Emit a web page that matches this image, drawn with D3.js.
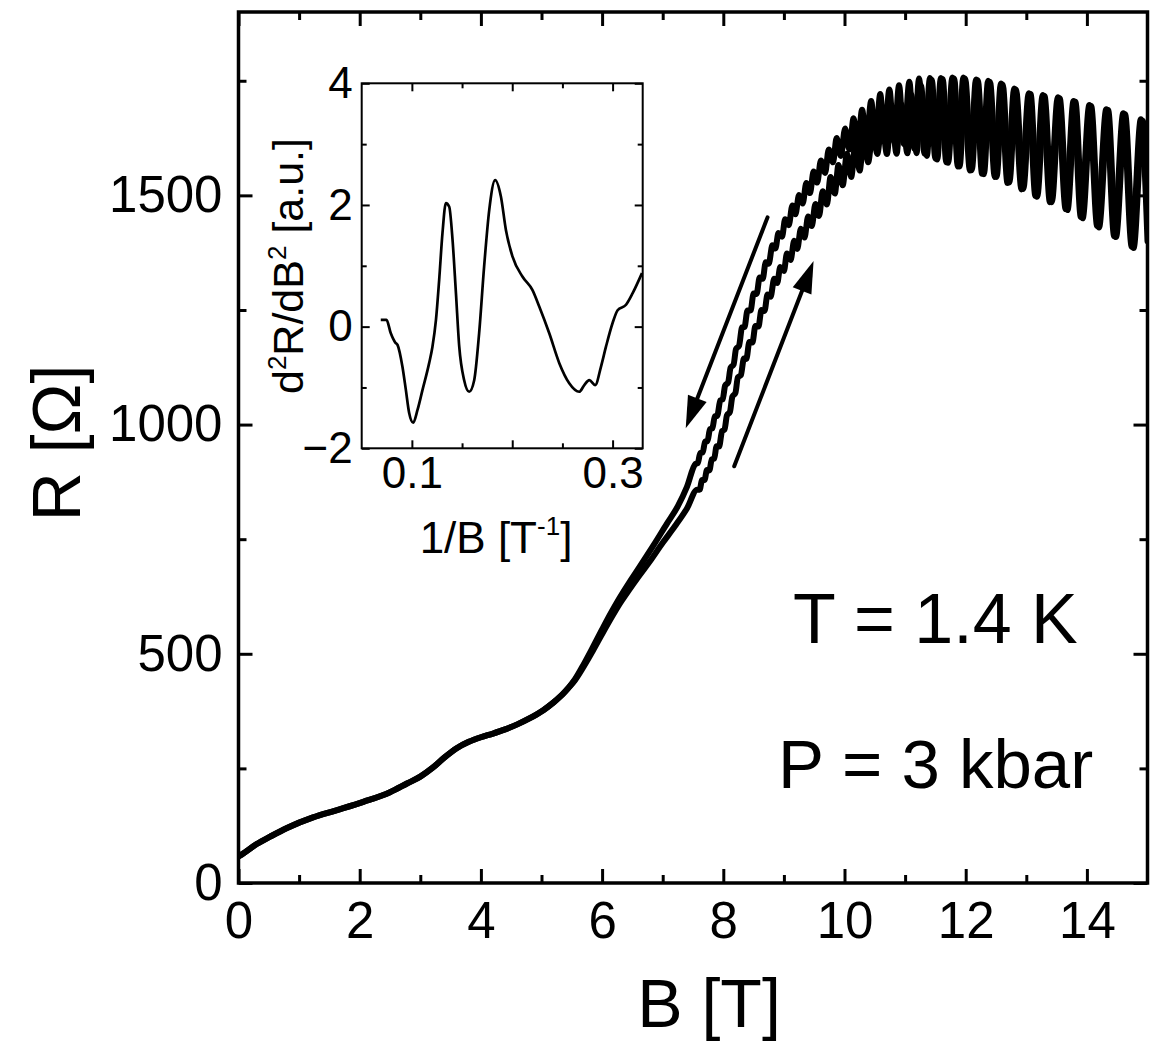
<!DOCTYPE html>
<html>
<head>
<meta charset="utf-8">
<script src="https://cdnjs.cloudflare.com/ajax/libs/d3/7.8.5/d3.min.js"></script>
<style>
  body { margin: 0; background: #fff; }
  svg { font-family: "Liberation Sans", Arial, Helvetica, sans-serif; }
  .tick line { stroke: #000; }
</style>
</head>
<body>
<div id="chart"></div>
<script>
// R(B) below 5.45 T, both sweeps lie on top of each other
var lowField = [
  [0, 58], [0.05, 62], [0.3, 85], [0.52, 101], [0.8, 120], [1.23, 143], [1.6, 158],
  [2.06, 177], [2.5, 198], [2.78, 217], [3.0, 232], [3.2, 251], [3.4, 274], [3.6, 294],
  [3.8, 308], [4.0, 318], [4.2, 326], [4.4, 335], [4.6, 346], [4.8, 359], [5.03, 377],
  [5.2, 394], [5.32, 408], [5.44, 425]
];

// down sweep (upper-left curve), oscillation extrema
var downSweep = [
  [5.55, 444], [5.7, 478], [5.85, 515], [6.0, 553], [6.15, 590], [6.28, 620], [6.45, 656],
  [6.61, 688], [6.85, 737], [7.07, 784], [7.25, 822], [7.4, 864],
  [7.54, 914], [7.58, 916], [7.62, 938], [7.66, 939], [7.70, 963], [7.74, 964], [7.78, 990],
  [7.82, 992], [7.86, 1018], [7.90, 1019], [7.95, 1053], [7.99, 1055], [8.03, 1085], [8.08, 1092],
  [8.12, 1124], [8.17, 1131], [8.21, 1165], [8.26, 1172], [8.31, 1212], [8.35, 1213], [8.40, 1249],
  [8.45, 1249], [8.50, 1286], [8.55, 1285], [8.60, 1321], [8.65, 1318], [8.70, 1354], [8.75, 1351],
  [8.81, 1391], [8.86, 1384], [8.91, 1418], [8.97, 1410], [9.02, 1448], [9.08, 1435], [9.14, 1478],
  [9.19, 1459], [9.25, 1501], [9.31, 1482], [9.37, 1527], [9.43, 1505], [9.49, 1552], [9.55, 1528],
  [9.61, 1576], [9.68, 1549], [9.74, 1600], [9.81, 1572], [9.87, 1625], [9.94, 1586], [10.01, 1646],
  [10.08, 1600], [10.15, 1668], [10.22, 1607], [10.29, 1687], [10.36, 1614], [10.44, 1706],
  [10.51, 1615], [10.59, 1721], [10.66, 1618], [10.74, 1731], [10.82, 1617], [10.90, 1740],
  [10.98, 1612], [11.07, 1748], [11.15, 1602], [11.23, 1755], [11.32, 1591], [11.41, 1756],
  [11.50, 1580], [11.59, 1756], [11.68, 1572], [11.78, 1757], [11.87, 1563], [11.96, 1757],
  [12.07, 1554], [12.17, 1753], [12.27, 1547], [12.37, 1750], [12.48, 1540], [12.58, 1744],
  [12.69, 1527], [12.80, 1733], [12.92, 1513], [13.04, 1723], [13.15, 1499], [13.27, 1719],
  [13.39, 1485], [13.52, 1714], [13.65, 1470], [13.78, 1706], [13.90, 1453], [14.04, 1697],
  [14.17, 1433], [14.32, 1688], [14.45, 1411], [14.60, 1679], [14.74, 1388], [14.89, 1666],
  [15.0, 1400]
];

// up sweep (lower-right curve)
var upSweep = [
  [5.55, 442], [5.7, 473], [5.85, 507], [6.0, 543], [6.15, 578], [6.3, 611], [6.45, 640],
  [6.6, 668], [6.78, 700], [7.0, 742], [7.2, 778], [7.4, 817],
  [7.57, 858], [7.61, 858], [7.65, 879], [7.69, 879], [7.73, 901], [7.77, 900], [7.81, 924],
  [7.85, 926], [7.89, 953], [7.93, 952], [7.98, 986], [8.02, 989], [8.06, 1020], [8.11, 1028],
  [8.15, 1061], [8.20, 1069], [8.24, 1103], [8.29, 1108], [8.34, 1144], [8.38, 1143], [8.43, 1180],
  [8.48, 1179], [8.53, 1215], [8.58, 1214], [8.63, 1250], [8.68, 1248], [8.73, 1284], [8.78, 1279],
  [8.84, 1318], [8.89, 1309], [8.94, 1344], [9.00, 1335], [9.05, 1373], [9.11, 1359], [9.17, 1401],
  [9.22, 1383], [9.28, 1427], [9.34, 1408], [9.40, 1454], [9.46, 1433], [9.52, 1481], [9.58, 1455],
  [9.64, 1509], [9.71, 1480], [9.77, 1540], [9.84, 1504], [9.90, 1566], [9.97, 1522], [10.04, 1591],
  [10.11, 1540], [10.18, 1612], [10.25, 1554], [10.32, 1630], [10.39, 1572], [10.47, 1645],
  [10.54, 1590], [10.62, 1662], [10.70, 1590], [10.77, 1680], [10.86, 1591], [10.93, 1700],
  [11.04, 1592], [11.10, 1720], [11.19, 1592], [11.26, 1740], [11.36, 1586], [11.44, 1752],
  [11.53, 1578], [11.62, 1754], [11.71, 1571], [11.81, 1755], [11.90, 1563], [11.99, 1755],
  [12.10, 1555], [12.20, 1751], [12.30, 1546], [12.40, 1748], [12.51, 1540], [12.61, 1742],
  [12.72, 1528], [12.83, 1731], [12.95, 1514], [13.07, 1721], [13.18, 1497], [13.30, 1717],
  [13.42, 1485], [13.55, 1712], [13.68, 1468], [13.81, 1704], [13.93, 1450], [14.07, 1695],
  [14.20, 1430], [14.35, 1686], [14.48, 1409], [14.63, 1677], [14.77, 1385], [14.92, 1663],
  [15.0, 1520]
];

// inset: d2R/dB2 vs 1/B
var insetCurve = [
  [0.069, 0.11], [0.0747, 0.11], [0.079, -0.11], [0.0834, -0.26], [0.0857, -0.30], [0.0906, -0.66],
  [0.094, -1.04], [0.0973, -1.42], [0.1013, -1.58], [0.1056, -1.37], [0.1106, -1.04], [0.1172, -0.60],
  [0.1205, -0.33], [0.124, 0.11], [0.1272, 0.77], [0.1305, 1.54], [0.1339, 2.03], [0.1372, 1.97],
  [0.1405, 1.43], [0.1439, 0.55], [0.1472, -0.33], [0.1521, -0.88], [0.1571, -1.07], [0.1621, -0.88],
  [0.167, -0.11], [0.172, 0.99], [0.1771, 1.92], [0.183, 2.41], [0.1887, 2.14], [0.1937, 1.59],
  [0.2003, 1.15], [0.2103, 0.82], [0.2202, 0.60], [0.2269, 0.33], [0.2369, -0.11], [0.2469, -0.60],
  [0.2568, -0.93], [0.2668, -1.07], [0.2718, -0.96], [0.2768, -0.88], [0.2827, -0.96], [0.2884, -0.66],
  [0.2934, -0.33], [0.3, 0.06], [0.305, 0.27], [0.3134, 0.36], [0.32, 0.55], [0.3293, 0.88]
];

// ticks
var mainXTicks = [0, 2, 4, 6, 8, 10, 12, 14];
var mainXMinor = [1, 3, 5, 7, 9, 11, 13];
var mainYTicks = [0, 500, 1000, 1500];
var mainYMinor = [250, 750, 1250, 1750];
var insetXTicks = [0.1, 0.2, 0.3];
var insetXLabels = ["0.1", "", "0.3"];
var insetXMinor = [0.15, 0.25];
var insetYTicks = [-2, 0, 2, 4];
var insetYMinor = [-1, 1, 3];

// sweep direction arrows, [B, R] of tail and head
var arrowEnds = [
  { from: [8.73, 1452], to: [7.38, 992] },
  { from: [8.18, 909], to: [9.49, 1357] }
];

var width = 1150, height = 1045;

var svg = d3.select("#chart").append("svg")
  .attr("width", width)
  .attr("height", height);

// ---- main panel ----
var x = d3.scaleLinear().domain([0, 15]).range([238.5, 1147.5]);
var y = d3.scaleLinear().domain([0, 1900]).range([883, 12]);

svg.append("clipPath").attr("id", "mainClip")
  .append("rect")
  .attr("x", x(0)).attr("y", y(1900))
  .attr("width", x(15) - x(0)).attr("height", y(0) - y(1900));

function drawTicks(g, axis, w) {
  g.call(axis);
  g.select(".domain").remove();
  g.selectAll(".tick line").attr("stroke-width", w);
}

// bottom / top / left / right, major and minor, all pointing inwards
drawTicks(svg.append("g").attr("transform", "translate(0," + y(0) + ")"),
  d3.axisBottom(x).tickValues(mainXTicks).tickSize(-14).tickPadding(19).tickFormat(d3.format("d")), 3);
drawTicks(svg.append("g").attr("transform", "translate(0," + y(0) + ")"),
  d3.axisBottom(x).tickValues(mainXMinor).tickSize(-8).tickFormat(""), 3);
drawTicks(svg.append("g").attr("transform", "translate(0," + y(1900) + ")"),
  d3.axisTop(x).tickValues(mainXTicks).tickSize(-14).tickFormat(""), 3);
drawTicks(svg.append("g").attr("transform", "translate(0," + y(1900) + ")"),
  d3.axisTop(x).tickValues(mainXMinor).tickSize(-8).tickFormat(""), 3);
drawTicks(svg.append("g").attr("transform", "translate(" + x(0) + ",0)"),
  d3.axisLeft(y).tickValues(mainYTicks).tickSize(-14).tickPadding(16).tickFormat(d3.format("d")), 3);
drawTicks(svg.append("g").attr("transform", "translate(" + x(0) + ",0)"),
  d3.axisLeft(y).tickValues(mainYMinor).tickSize(-8).tickFormat(""), 3);
drawTicks(svg.append("g").attr("transform", "translate(" + x(15) + ",0)"),
  d3.axisRight(y).tickValues(mainYTicks).tickSize(-14).tickFormat(""), 3);
drawTicks(svg.append("g").attr("transform", "translate(" + x(15) + ",0)"),
  d3.axisRight(y).tickValues(mainYMinor).tickSize(-8).tickFormat(""), 3);

svg.selectAll(".tick text")
  .attr("font-size", 51)
  .attr("font-family", "Liberation Sans, Arial, sans-serif")
  .attr("fill", "#000");

svg.append("rect")
  .attr("x", x(0)).attr("y", y(1900))
  .attr("width", x(15) - x(0)).attr("height", y(0) - y(1900))
  .attr("fill", "none").attr("stroke", "#000").attr("stroke-width", 3.5);

var line = d3.line()
  .x(function(d) { return x(d[0]); })
  .y(function(d) { return y(d[1]); })
  .curve(d3.curveMonotoneX);

var curves = svg.append("g").attr("clip-path", "url(#mainClip)");
[lowField.concat(upSweep), lowField.concat(downSweep)].forEach(function(s) {
  curves.append("path")
    .datum(s)
    .attr("d", line)
    .attr("fill", "none")
    .attr("stroke", "#000")
    .attr("stroke-width", 6)
    .attr("stroke-linejoin", "round")
    .attr("stroke-linecap", "round");
});

// arrows
arrowEnds.forEach(function(a) {
  var x0 = x(a.from[0]), y0 = y(a.from[1]);
  var x1 = x(a.to[0]), y1 = y(a.to[1]);
  var dx = x1 - x0, dy = y1 - y0, len = Math.sqrt(dx * dx + dy * dy);
  var ux = dx / len, uy = dy / len;
  var headLen = 32, headW = 10;
  var bx = x1 - ux * headLen, by = y1 - uy * headLen;
  svg.append("line")
    .attr("x1", x0).attr("y1", y0).attr("x2", bx + ux * 2).attr("y2", by + uy * 2)
    .attr("stroke", "#000").attr("stroke-width", 4).attr("stroke-linecap", "round");
  svg.append("path")
    .attr("d", "M" + x1 + "," + y1 +
      "L" + (bx - uy * headW) + "," + (by + ux * headW) +
      "L" + (bx + uy * headW) + "," + (by - ux * headW) + "Z")
    .attr("fill", "#000");
});

// axis titles
svg.append("text")
  .attr("x", 709).attr("y", 1027)
  .attr("text-anchor", "middle")
  .attr("font-size", 68)
  .text("B [T]");

svg.append("text")
  .attr("transform", "translate(80,443) rotate(-90)")
  .attr("text-anchor", "middle")
  .attr("font-size", 68)
  .text("R [\u03A9]");

svg.append("text")
  .attr("x", 793).attr("y", 643)
  .attr("font-size", 70)
  .text("T = 1.4 K");

svg.append("text")
  .attr("x", 778).attr("y", 788)
  .attr("font-size", 69)
  .text("P = 3 kbar");

// ---- inset ----
var ix = d3.scaleLinear().domain([0.05, 0.33]).range([361.7, 642.7]);
var iy = d3.scaleLinear().domain([-2, 4]).range([448.3, 83.3]);

var inset = svg.append("g");

inset.append("rect")
  .attr("x", ix(0.05)).attr("y", iy(4))
  .attr("width", ix(0.33) - ix(0.05)).attr("height", iy(-2) - iy(4))
  .attr("fill", "#fff");

drawTicks(inset.append("g").attr("transform", "translate(0," + iy(-2) + ")"),
  d3.axisBottom(ix).tickValues(insetXTicks).tickSize(-8).tickPadding(8)
    .tickFormat(function(d, i) { return insetXLabels[i]; }), 2);
drawTicks(inset.append("g").attr("transform", "translate(0," + iy(-2) + ")"),
  d3.axisBottom(ix).tickValues(insetXMinor).tickSize(-5).tickFormat(""), 2);
drawTicks(inset.append("g").attr("transform", "translate(0," + iy(4) + ")"),
  d3.axisTop(ix).tickValues(insetXTicks).tickSize(-8).tickFormat(""), 2);
drawTicks(inset.append("g").attr("transform", "translate(0," + iy(4) + ")"),
  d3.axisTop(ix).tickValues(insetXMinor).tickSize(-5).tickFormat(""), 2);
drawTicks(inset.append("g").attr("transform", "translate(" + ix(0.05) + ",0)"),
  d3.axisLeft(iy).tickValues(insetYTicks).tickSize(-8).tickPadding(9).tickFormat(d3.format("d")), 2);
drawTicks(inset.append("g").attr("transform", "translate(" + ix(0.05) + ",0)"),
  d3.axisLeft(iy).tickValues(insetYMinor).tickSize(-5).tickFormat(""), 2);
drawTicks(inset.append("g").attr("transform", "translate(" + ix(0.33) + ",0)"),
  d3.axisRight(iy).tickValues(insetYTicks).tickSize(-8).tickFormat(""), 2);
drawTicks(inset.append("g").attr("transform", "translate(" + ix(0.33) + ",0)"),
  d3.axisRight(iy).tickValues(insetYMinor).tickSize(-5).tickFormat(""), 2);

inset.selectAll(".tick text")
  .attr("font-size", 44)
  .attr("font-family", "Liberation Sans, Arial, sans-serif")
  .attr("fill", "#000");

inset.append("rect")
  .attr("x", ix(0.05)).attr("y", iy(4))
  .attr("width", ix(0.33) - ix(0.05)).attr("height", iy(-2) - iy(4))
  .attr("fill", "none").attr("stroke", "#000").attr("stroke-width", 2);

var iline = d3.line()
  .x(function(d) { return ix(d[0]); })
  .y(function(d) { return iy(d[1]); })
  .curve(d3.curveMonotoneX);

inset.append("path")
  .datum(insetCurve)
  .attr("d", iline)
  .attr("fill", "none")
  .attr("stroke", "#000")
  .attr("stroke-width", 2.7)
  .attr("stroke-linejoin", "round");

var xt = inset.append("text")
  .attr("x", 496).attr("y", 553)
  .attr("text-anchor", "middle")
  .attr("font-size", 44);
xt.append("tspan").text("1/B [T");
xt.append("tspan").attr("font-size", 26).attr("dy", -18).text("-1");
xt.append("tspan").attr("dy", 18).text("]");

var yt = inset.append("text")
  .attr("transform", "translate(303,266) rotate(-90)")
  .attr("text-anchor", "middle")
  .attr("font-size", 43);
yt.append("tspan").text("d");
yt.append("tspan").attr("font-size", 26).attr("dy", -17).text("2");
yt.append("tspan").attr("dy", 17).text("R/dB");
yt.append("tspan").attr("font-size", 26).attr("dy", -17).text("2");
yt.append("tspan").attr("dy", 17).text(" [a.u.]");
</script>
</body>
</html>
